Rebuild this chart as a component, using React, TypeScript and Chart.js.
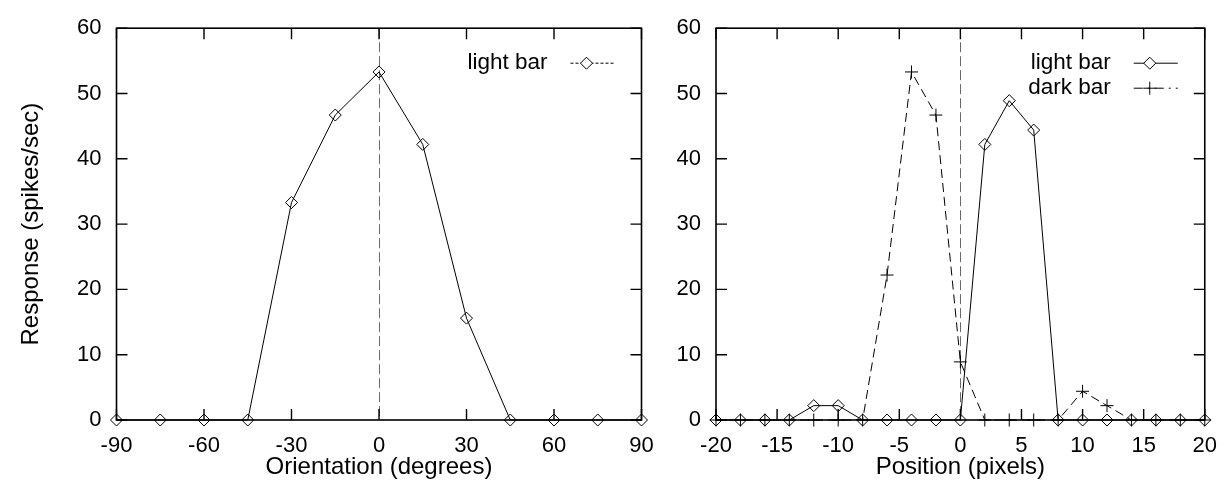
import React, { useEffect, useRef } from "react";
import { Chart, registerables } from "chart.js";

Chart.register(...registerables);

const FONT = "'Liberation Sans', Arial, Helvetica, sans-serif";
const TICK_FS = 22;
const XTITLE_FS = 24;
const YTITLE_FS = 24;
const KEY_FS = 22.5;

// ---- data ----
const orientationDeg = [-90, -75, -60, -45, -30, -15, 0, 15, 30, 45, 60, 75, 90];
const orientationResp = [0, 0, 0, 0, 33.3, 46.7, 53.3, 42.2, 15.6, 0, 0, 0, 0];

const positionPx = [-20, -18, -16, -14, -12, -10, -8, -6, -4, -2, 0, 2, 4, 6, 8, 10, 12, 14, 16, 18, 20];
const lightBarResp = [0, 0, 0, 0, 2.2, 2.2, 0, 0, 0, 0, 0, 42.2, 48.9, 44.4, 0, 0, 0, 0, 0, 0, 0];
const darkBarResp = [0, 0, 0, 0, 0, 0, 0, 22.2, 53.3, 46.7, 8.9, 0, 0, 0, 0, 4.4, 2.2, 0, 0, 0, 0];

const orientationTicks = [-90, -60, -30, 0, 30, 60, 90];
const positionTicks = [-20, -15, -10, -5, 0, 5, 10, 15, 20];
const responseTicks = [0, 10, 20, 30, 40, 50, 60];

const toXY = (xs: number[], ys: number[]) => xs.map((x, i) => ({ x, y: ys[i] }));

// ---- plugins ----
const frameAndTicks = {
  id: "frameAndTicks",
  beforeDatasetsDraw(chart: any) {
    const { ctx, chartArea, scales } = chart;
    const x0 = Math.round(scales.x.getPixelForValue(0)) + 0.5;
    ctx.save();
    ctx.strokeStyle = "#6a6a6a";
    ctx.lineWidth = 1;
    ctx.setLineDash([10, 4]);
    ctx.beginPath();
    ctx.moveTo(x0, chartArea.top);
    ctx.lineTo(x0, chartArea.bottom);
    ctx.stroke();
    ctx.restore();
  },
  afterDatasetsDraw(chart: any, _args: any, opts: any) {
    const { ctx, chartArea, scales } = chart;
    const { left, right, top, bottom } = chartArea;
    const TL = 11;
    ctx.save();
    ctx.strokeStyle = "#000";
    ctx.setLineDash([]);
    ctx.lineWidth = 1.6;
    ctx.strokeRect(left, top, right - left, bottom - top);
    ctx.lineWidth = 1.4;
    ctx.beginPath();
    for (const v of opts.xTicks || []) {
      const px = scales.x.getPixelForValue(v);
      ctx.moveTo(px, bottom);
      ctx.lineTo(px, bottom - TL);
      ctx.moveTo(px, top);
      ctx.lineTo(px, top + TL);
    }
    for (const v of opts.yTicks || []) {
      const py = scales.y.getPixelForValue(v);
      ctx.moveTo(left, py);
      ctx.lineTo(left + TL, py);
      ctx.moveTo(right, py);
      ctx.lineTo(right - TL, py);
    }
    ctx.stroke();
    ctx.restore();
  },
};

const keyPlugin = {
  id: "keyBox",
  afterDraw(chart: any, _args: any, opts: any) {
    const { ctx, chartArea } = chart;
    const items = opts.items || [];
    ctx.save();
    ctx.font = `${KEY_FS}px ${FONT}`;
    ctx.textAlign = "right";
    ctx.textBaseline = "middle";
    items.forEach((it: any, i: number) => {
      const y = chartArea.top + 35 + i * 25;
      ctx.fillStyle = "#000";
      ctx.fillText(it.label, chartArea.right - 94, y);
      const x1 = chartArea.right - 71;
      const x2 = chartArea.right - 27;
      const xm = chartArea.right - 55;
      ctx.strokeStyle = "#000";
      ctx.lineWidth = 1;
      ctx.setLineDash(it.dash || []);
      ctx.beginPath();
      ctx.moveTo(x1, y);
      ctx.lineTo(x2, y);
      ctx.stroke();
      ctx.setLineDash([]);
      ctx.beginPath();
      if (it.marker === "diamond") {
        const r = 6;
        ctx.moveTo(xm - r, y);
        ctx.lineTo(xm, y - r);
        ctx.lineTo(xm + r, y);
        ctx.lineTo(xm, y + r);
        ctx.closePath();
        ctx.fillStyle = "#fff";
        ctx.fill();
      } else {
        const r = 6.5;
        ctx.moveTo(xm - r, y);
        ctx.lineTo(xm + r, y);
        ctx.moveTo(xm, y - r);
        ctx.lineTo(xm, y + r);
      }
      ctx.stroke();
    });
    ctx.restore();
  },
};

function makeScales(xMin: number, xMax: number, xStep: number, yAxisWidth: number, yTitle: string | null, xTitle: string) {
  return {
    x: {
      type: "linear",
      min: xMin,
      max: xMax,
      afterFit: (s: any) => {
        s.height = 64;
      },
      ticks: {
        stepSize: xStep,
        color: "#000",
        font: { family: FONT, size: TICK_FS },
        padding: 13,
        maxRotation: 0,
        autoSkip: false,
      },
      grid: { display: false, drawTicks: false },
      border: { display: false },
      title: {
        display: true,
        text: xTitle,
        color: "#000",
        font: { family: FONT, size: XTITLE_FS },
        padding: { top: 0, bottom: 2 },
      },
    },
    y: {
      type: "linear",
      min: 0,
      max: 60,
      afterFit: (s: any) => {
        s.width = yAxisWidth;
      },
      ticks: {
        stepSize: 10,
        color: "#000",
        font: { family: FONT, size: TICK_FS },
        padding: 15,
      },
      grid: { display: false, drawTicks: false },
      border: { display: false },
      title: {
        display: !!yTitle,
        text: yTitle || "",
        color: "#000",
        font: { family: FONT, size: YTITLE_FS },
        padding: { top: 17, bottom: 0 },
      },
    },
  };
}

function LeftChart() {
  const ref = useRef<HTMLCanvasElement | null>(null);
  useEffect(() => {
    if (!ref.current) return;
    const chart = new Chart(ref.current, {
      type: "line",
      data: {
        datasets: [
          {
            label: "light bar",
            data: toXY(orientationDeg, orientationResp),
            borderColor: "#000",
            borderWidth: 1,
            backgroundColor: "rgba(0,0,0,0)",
            pointStyle: "rectRot",
            pointRadius: 6,
            pointBorderWidth: 1,
            pointBorderColor: "#000",
            pointBackgroundColor: "rgba(0,0,0,0)",
            tension: 0,
            clip: false,
          },
        ],
      } as any,
      options: {
        responsive: false,
        animation: false,
        layout: { padding: { left: 0, right: 28.5, top: 20, bottom: 0 } },
        scales: makeScales(-90, 90, 30, 116.5, "Response (spikes/sec)", "Orientation (degrees)") as any,
        plugins: {
          legend: { display: false },
          tooltip: { enabled: false },
          frameAndTicks: { xTicks: orientationTicks, yTicks: responseTicks },
          keyBox: { items: [{ label: "light bar", marker: "diamond", dash: [3, 2] }] },
        } as any,
      },
      plugins: [frameAndTicks, keyPlugin],
    });
    return () => chart.destroy();
  }, []);
  return <canvas ref={ref} width={670} height={484} style={{ position: "absolute", left: 0, top: 0 }} />;
}

function RightChart() {
  const ref = useRef<HTMLCanvasElement | null>(null);
  useEffect(() => {
    if (!ref.current) return;
    const chart = new Chart(ref.current, {
      type: "line",
      data: {
        datasets: [
          {
            label: "light bar",
            data: toXY(positionPx, lightBarResp),
            borderColor: "#000",
            borderWidth: 1,
            backgroundColor: "rgba(0,0,0,0)",
            pointStyle: "rectRot",
            pointRadius: 6,
            pointBorderWidth: 1,
            pointBorderColor: "#000",
            pointBackgroundColor: "rgba(0,0,0,0)",
            tension: 0,
            clip: false,
          },
          {
            label: "dark bar",
            data: toXY(positionPx, darkBarResp),
            borderColor: "#000",
            borderWidth: 1,
            borderDash: [9, 5],
            backgroundColor: "rgba(0,0,0,0)",
            pointStyle: "cross",
            pointRadius: 6.5,
            pointBorderWidth: 1,
            pointBorderColor: "#000",
            tension: 0,
            clip: false,
          },
        ],
      } as any,
      options: {
        responsive: false,
        animation: false,
        layout: { padding: { left: 0, right: 18.5, top: 20, bottom: 0 } },
        scales: makeScales(-20, 20, 5, 46, null, "Position (pixels)") as any,
        plugins: {
          legend: { display: false },
          tooltip: { enabled: false },
          frameAndTicks: { xTicks: positionTicks, yTicks: responseTicks },
          keyBox: {
            items: [
              { label: "light bar", marker: "diamond", dash: [] },
              { label: "dark bar", marker: "plus", dash: [9, 5, 2, 5] },
            ],
          },
        } as any,
      },
      plugins: [frameAndTicks, keyPlugin],
    });
    return () => chart.destroy();
  }, []);
  return <canvas ref={ref} width={560} height={484} style={{ position: "absolute", left: 0, top: 0 }} />;
}

export default function App() {
  return (
    <div style={{ position: "fixed", left: 0, top: 0, width: 1230, height: 484, background: "#fff", overflow: "hidden" }}>
      <div style={{ position: "absolute", left: 0, top: 0, width: 670, height: 484 }}>
        <LeftChart />
      </div>
      <div style={{ position: "absolute", left: 670, top: 0, width: 560, height: 484 }}>
        <RightChart />
      </div>
    </div>
  );
}
